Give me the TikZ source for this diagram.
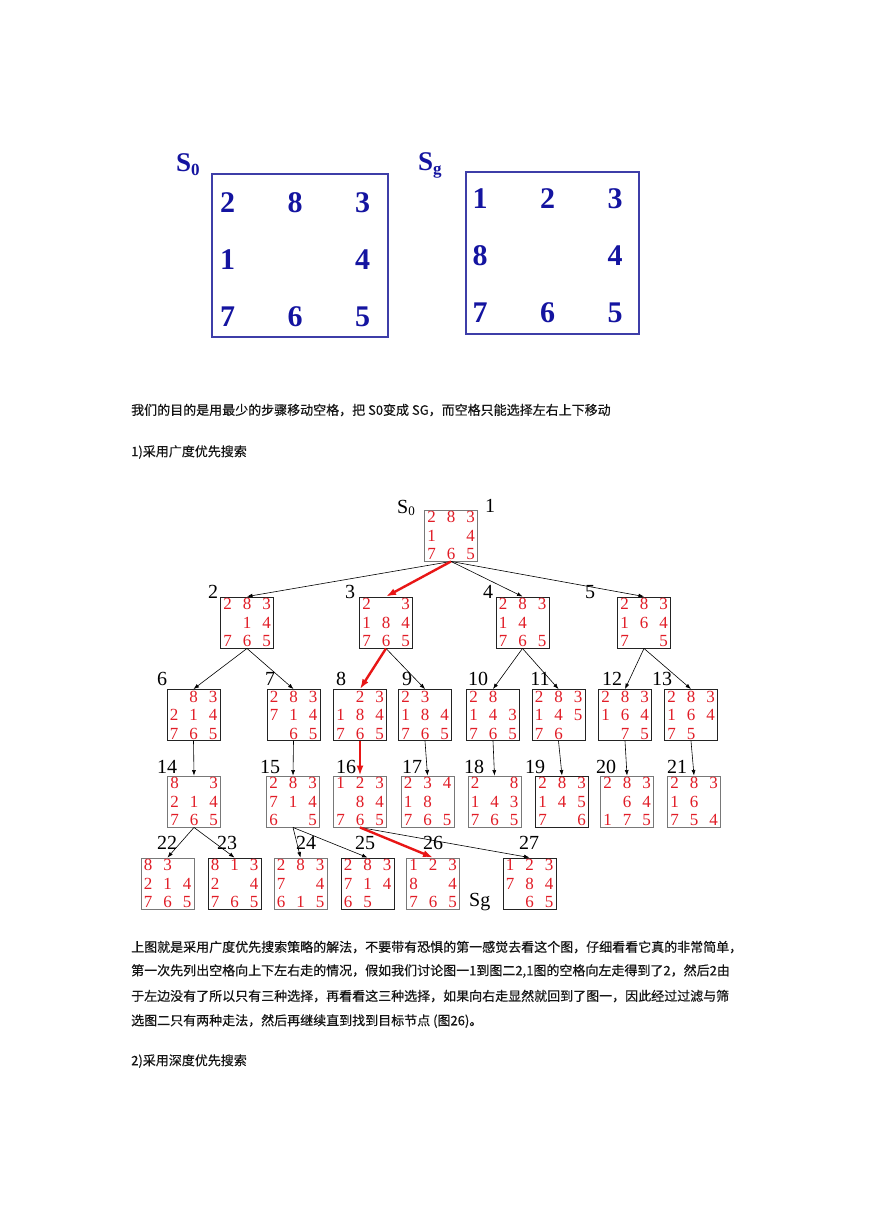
\documentclass[tikz,border=0pt]{standalone}
\usepackage{fontspec}
\usepackage{tikz}
\usetikzlibrary{arrows.meta}
\setmainfont{Liberation Serif}
\newfontfamily\cjk[FakeBold=0.4]{Noto Sans CJK SC}
\XeTeXlinebreaklocale "zh"
\XeTeXlinebreakskip=0pt plus 2pt
\definecolor{myred}{RGB}{232,22,22}
\definecolor{digred}{RGB}{225,28,38}
\definecolor{digblue}{RGB}{20,20,160}
\definecolor{bigblue}{RGB}{62,62,168}
\definecolor{boxdark}{RGB}{35,35,35}
\definecolor{boxgray}{RGB}{120,120,120}
\definecolor{txtdark}{RGB}{20,20,20}
% one cell, rows of the small and the big puzzle
\newcommand{\cell}[1]{\makebox[0pt]{#1}}
\newcommand{\board}[9]{\cell{#1}\hspace{19.5pt}\cell{#2}\hspace{19.5pt}\cell{#3}\\
  \cell{#4}\hspace{19.5pt}\cell{#5}\hspace{19.5pt}\cell{#6}\\
  \cell{#7}\hspace{19.5pt}\cell{#8}\hspace{19.5pt}\cell{#9}}
\newcommand{\bigrow}[3]{\cell{#1}\hspace{67.5pt}\cell{#2}\hspace{67.5pt}\cell{#3}\makebox[10pt]{}}
\tikzset{
  board/.style={rectangle, draw=boxdark, line width=0.9pt,
    minimum width=53pt, minimum height=51pt, inner sep=0pt,
    align=center, text=digred, font=\fontsize{17}{18.5}\selectfont},
  boardg/.style={board, draw=boxgray},
  bigboard/.style={rectangle, draw=bigblue, line width=1.3pt, inner sep=0pt,
    align=center, text=digblue, font=\fontsize{30}{57}\selectfont\bfseries},
  biglabel/.style={text=digblue, font=\fontsize{27}{27}\selectfont\bfseries,
    inner sep=0pt, anchor=base west},
  numlabel/.style={font=\fontsize{20}{20}\selectfont, inner sep=0pt},
  txt/.style={text=txtdark, font=\cjk\fontsize{13}{13}\selectfont,
    anchor=west, inner sep=0pt},
  arrow/.style={-{Latex[length=5.5pt,width=4pt]}, line width=0.6pt, color=black},
  redarrow/.style={-{Latex[length=10pt,width=7pt]}, line width=2.4pt, color=myred}
}

\begin{document}
\begin{tikzpicture}[x=1pt, y=-1pt]
  \path[use as bounding box, fill=white] (0,0) rectangle (869,1228);

  % Start and goal
  \node[biglabel] (s0big) at (176,171) {S\raisebox{-4pt}{\fontsize{17}{17}\selectfont 0}};
  \node[bigboard, minimum width=176pt, minimum height=163pt] (start) at (300,255.5)
    {\rule{0pt}{29pt}\bigrow{2}{8}{3}\\ \bigrow{1}{}{4}\\ \bigrow{7}{6}{5}};
  \node[biglabel] (sgbig) at (418,170) {S\raisebox{-4pt}{\fontsize{17}{17}\selectfont g}};
  \node[bigboard, minimum width=173pt, minimum height=162pt] (goal) at (552.5,253)
    {\rule{0pt}{24.5pt}\bigrow{1}{2}{3}\\ \bigrow{8}{}{4}\\ \bigrow{7}{6}{5}};

  % Text
  \node[txt] (t1) at (131,410) {我们的目的是用最少的步骤移动空格，把 S0变成 SG，而空格只能选择左右上下移动};
  \node[txt] (t2) at (131,452) {1)采用广度优先搜索};

  % Search tree
  \node[boardg] (b1) at (451,535.5) {\board{2}{8}{3}{1}{}{4}{7}{6}{5}};
  \node[numlabel, anchor=base west] (s0tree) at (397,513) {S\raisebox{-2pt}{\fontsize{13}{13}\selectfont 0}};

  \node[board] (b2) at (247,622.5) {\board{2}{8}{3}{}{1}{4}{7}{6}{5}};
  \node[board] (b3) at (386,622.5) {\board{2}{}{3}{1}{8}{4}{7}{6}{5}};
  \node[board] (b4) at (522.5,622.5) {\board{2}{8}{3}{1}{4}{}{7}{6}{5}};
  \node[board] (b5) at (644,622.5) {\board{2}{8}{3}{1}{6}{4}{7}{}{5}};

  \node[board] (b6) at (193.5,715) {\board{}{8}{3}{2}{1}{4}{7}{6}{5}};
  \node[board] (b7) at (293.5,715) {\board{2}{8}{3}{7}{1}{4}{}{6}{5}};
  \node[board] (b8) at (360,715) {\board{}{2}{3}{1}{8}{4}{7}{6}{5}};
  \node[board] (b9) at (425,715) {\board{2}{3}{}{1}{8}{4}{7}{6}{5}};
  \node[board] (b10) at (493,715) {\board{2}{8}{}{1}{4}{3}{7}{6}{5}};
  \node[board] (b11) at (558.5,715) {\board{2}{8}{3}{1}{4}{5}{7}{6}{}};
  \node[board] (b12) at (625,715) {\board{2}{8}{3}{1}{6}{4}{}{7}{5}};
  \node[board] (b13) at (691,715) {\board{2}{8}{3}{1}{6}{4}{7}{5}{}};

  \node[boardg] (b14) at (194,801.5) {\board{8}{}{3}{2}{1}{4}{7}{6}{5}};
  \node[boardg] (b15) at (293,801.5) {\board{2}{8}{3}{7}{1}{4}{6}{}{5}};
  \node[boardg] (b16) at (360,801.5) {\board{1}{2}{3}{}{8}{4}{7}{6}{5}};
  \node[boardg] (b17) at (427.5,801.5) {\board{2}{3}{4}{1}{8}{}{7}{6}{5}};
  \node[boardg] (b18) at (494.5,801.5) {\board{2}{}{8}{1}{4}{3}{7}{6}{5}};
  \node[board] (b19) at (562,801.5) {\board{2}{8}{3}{1}{4}{5}{7}{}{6}};
  \node[boardg] (b20) at (627,801.5) {\board{2}{8}{3}{}{6}{4}{1}{7}{5}};
  \node[boardg] (b21) at (694,801.5) {\board{2}{8}{3}{1}{6}{}{7}{5}{4}};

  \node[boardg] (b22) at (167.5,883.5) {\board{8}{3}{}{2}{1}{4}{7}{6}{5}};
  \node[board] (b23) at (234.5,883.5) {\board{8}{1}{3}{2}{}{4}{7}{6}{5}};
  \node[boardg] (b24) at (300.5,883.5) {\board{2}{8}{3}{7}{}{4}{6}{1}{5}};
  \node[board] (b25) at (367.5,883.5) {\board{2}{8}{3}{7}{1}{4}{6}{5}{}};
  \node[boardg] (b26) at (433,883.5) {\board{1}{2}{3}{8}{}{4}{7}{6}{5}};
  \node[board] (b27) at (529.5,883.5) {\board{1}{2}{3}{7}{8}{4}{}{6}{5}};
  \node[numlabel, anchor=base west] (sgtree) at (469,906) {Sg};

  % Step numbers
  \foreach \n/\x/\y in {1/490/506, 2/213/592, 3/350/592, 4/488/592, 5/590/592,
      6/162/679, 7/270/679, 8/341/679, 9/407/679, 10/478/679, 11/540/679,
      12/612/679, 13/662/679, 14/167/767, 15/270/767, 16/346/767, 17/412/767,
      18/474/767, 19/535/767, 20/606/767, 21/677/767, 22/167/843, 23/227/843,
      24/306/843, 25/365/843, 26/433/843, 27/529/843}
    \node[numlabel] (lab\n) at (\x,\y) {\n};

  % Expansions
  \foreach \a/\b in {b1/b2, b1/b4, b1/b5, b2/b6, b2/b7, b3/b9, b4/b10, b4/b11,
      b5/b12, b5/b13, b6/b14, b7/b15, b9/b17, b10/b18, b11/b19, b12/b20,
      b13/b21, b14/b22, b14/b23, b15/b24, b15/b25, b16/b27}
    \draw[arrow] (\a.south) -- (\b.north);

  % Solution path
  \foreach \a/\b in {b1/b3, b3/b8, b8/b16, b16/b26}
    \draw[redarrow] (\a.south) -- (\b.north);

  % Text
  \node[txt] (p1) at (131,947) {\makebox[614pt][s]{上图就是采用广度优先搜索策略的解法，不要带有恐惧的第一感觉去看这个图，仔细看看它真的非常简单，}};
  \node[txt] (p2) at (131,971) {\makebox[614pt][s]{第一次先列出空格向上下左右走的情况，假如我们讨论图一1到图二2,1图的空格向左走得到了2，然后2由}};
  \node[txt] (p3) at (131,996) {\makebox[614pt][s]{于左边没有了所以只有三种选择，再看看这三种选择，如果向右走显然就回到了图一，因此经过过滤与筛}};
  \node[txt] (p4) at (131,1021) {选图二只有两种走法，然后再继续直到找到目标节点 (图26)。};
  \node[txt] (t3) at (131,1061) {2)采用深度优先搜索};
\end{tikzpicture}
\end{document}
